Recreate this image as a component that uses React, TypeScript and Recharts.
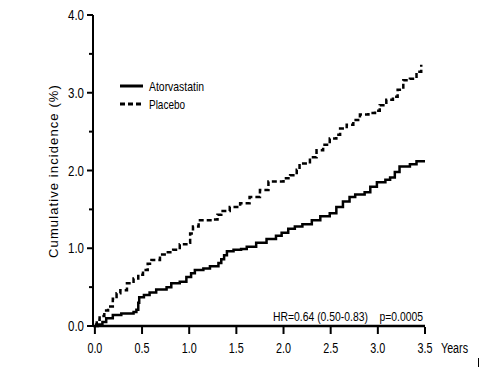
import React from 'react';
import { LineChart, Line, XAxis, YAxis } from 'recharts';

// Atorvastatin cumulative incidence (%) by year
const atorvaYears = [0, 0.03, 0.08, 0.12, 0.19, 0.28, 0.41, 0.44, 0.46, 0.47, 0.52, 0.58, 0.65, 0.76, 0.81, 0.9, 0.97, 1.02, 1.06, 1.15, 1.22, 1.31, 1.34, 1.37, 1.4, 1.47, 1.55, 1.61, 1.71, 1.82, 1.92, 1.98, 2.05, 2.12, 2.2, 2.3, 2.39, 2.49, 2.56, 2.63, 2.7, 2.76, 2.86, 2.92, 2.99, 3.08, 3.13, 3.18, 3.23, 3.34, 3.41, 3.5];
const atorvaValues = [0, 0.02, 0.05, 0.1, 0.14, 0.16, 0.18, 0.21, 0.3, 0.37, 0.4, 0.43, 0.47, 0.5, 0.55, 0.57, 0.63, 0.68, 0.72, 0.74, 0.77, 0.81, 0.86, 0.91, 0.96, 0.98, 0.99, 1.02, 1.07, 1.12, 1.16, 1.2, 1.25, 1.28, 1.31, 1.36, 1.41, 1.45, 1.53, 1.6, 1.66, 1.69, 1.72, 1.79, 1.85, 1.88, 1.91, 1.98, 2.05, 2.08, 2.12, 2.12];

// Placebo cumulative incidence (%) by year
const placeboYears = [0, 0.02, 0.05, 0.1, 0.14, 0.19, 0.23, 0.27, 0.34, 0.41, 0.46, 0.51, 0.56, 0.6, 0.69, 0.76, 0.83, 0.9, 0.97, 1.01, 1.04, 1.1, 1.25, 1.3, 1.34, 1.43, 1.54, 1.64, 1.75, 1.84, 1.93, 2.0, 2.07, 2.14, 2.17, 2.28, 2.35, 2.42, 2.49, 2.56, 2.6, 2.67, 2.74, 2.81, 2.9, 2.97, 3.02, 3.09, 3.16, 3.21, 3.27, 3.34, 3.41, 3.46];
const placeboValues = [0.02, 0.08, 0.13, 0.2, 0.25, 0.35, 0.42, 0.46, 0.55, 0.61, 0.66, 0.72, 0.8, 0.85, 0.92, 0.95, 0.98, 1.05, 1.07, 1.19, 1.28, 1.36, 1.37, 1.43, 1.48, 1.53, 1.58, 1.66, 1.75, 1.86, 1.86, 1.9, 1.94, 2.01, 2.09, 2.17, 2.26, 2.33, 2.41, 2.46, 2.54, 2.59, 2.65, 2.72, 2.74, 2.77, 2.84, 2.91, 2.95, 3.04, 3.16, 3.18, 3.27, 3.36];

const xTicks = [0, 0.5, 1, 1.5, 2, 2.5, 3, 3.5];
const yTicks = [0, 0.5, 1, 1.5, 2, 2.5, 3, 3.5, 4];
const seriesNames = ['Atorvastatin', 'Placebo'];
const statsText = 'HR=0.64 (0.50-0.83)    p=0.0005';

const atorvaData = atorvaYears.map((t, i) => ({ t, v: atorvaValues[i] }));
const placeboData = placeboYears.map((t, i) => ({ t, v: placeboValues[i] }));

const W = 495;
const H = 367;
const PLOT_LEFT = 93;
const PLOT_RIGHT = 425;
const PLOT_TOP = 15;
const PLOT_BOTTOM = 326;
const FONT = "'Liberation Sans', Arial, sans-serif";

const YTick = (props: any) => {
  const { y, payload } = props;
  const major = Number.isInteger(payload.value);
  return (
    <g>
      <line x1={PLOT_LEFT - (major ? 6 : 4)} x2={PLOT_LEFT} y1={y} y2={y} stroke="#000" strokeWidth={2} />
      {major && (
        <text x={84} y={y + 5} textAnchor="end" fontSize={14} fontFamily={FONT} fill="#000" textLength={16} lengthAdjust="spacingAndGlyphs">
          {payload.value.toFixed(1)}
        </text>
      )}
    </g>
  );
};

const XTick = (props: any) => {
  const { x, payload } = props;
  return (
    <g>
      <line x1={x} x2={x} y1={PLOT_BOTTOM + 1} y2={PLOT_BOTTOM + 8} stroke="#000" strokeWidth={2} />
      <text x={x - 7.5} y={353} fontSize={14} fontFamily={FONT} fill="#000" textLength={15} lengthAdjust="spacingAndGlyphs">
        {payload.value.toFixed(1)}
      </text>
    </g>
  );
};

export default function App() {
  return (
    <div style={{ position: 'absolute', left: 0, top: 0, width: W, height: H, background: '#fff' }}>
      <LineChart
        width={W}
        height={H}
        margin={{ top: PLOT_TOP, right: W - PLOT_RIGHT, bottom: 0, left: 0 }}
      >
        <XAxis
          type="number"
          dataKey="t"
          domain={[-0.02, 3.5]}
          ticks={xTicks}
          height={H - PLOT_BOTTOM}
          tick={<XTick />}
          tickLine={false}
          axisLine={{ stroke: '#000', strokeWidth: 2.5 }}
          allowDuplicatedCategory={false}
        />
        <YAxis
          type="number"
          dataKey="v"
          domain={[0, 4]}
          ticks={yTicks}
          width={PLOT_LEFT}
          tick={<YTick />}
          tickLine={false}
          axisLine={{ stroke: '#000', strokeWidth: 2 }}
        />
        <Line
          data={atorvaData}
          dataKey="v"
          name={seriesNames[0]}
          type="stepAfter"
          stroke="#000"
          strokeWidth={2.5}
          dot={false}
          isAnimationActive={false}
        />
        <Line
          data={placeboData}
          dataKey="v"
          name={seriesNames[1]}
          type="stepAfter"
          stroke="#000"
          strokeWidth={2.5}
          strokeDasharray="5 3"
          dot={false}
          isAnimationActive={false}
        />
        <g>
          <line x1={120} x2={143} y1={86} y2={86} stroke="#000" strokeWidth={3} />
          <text x={149} y={90.5} fontSize={13} fontFamily={FONT} fill="#000" textLength={55} lengthAdjust="spacingAndGlyphs">
            {seriesNames[0]}
          </text>
          <line x1={120} x2={143} y1={104} y2={104} stroke="#000" strokeWidth={3} strokeDasharray="5 3" />
          <text x={149} y={108.5} fontSize={13} fontFamily={FONT} fill="#000" textLength={36} lengthAdjust="spacingAndGlyphs">
            {seriesNames[1]}
          </text>
        </g>
        <text
          x={58}
          y={171}
          transform="rotate(-90 58 171)"
          textAnchor="middle"
          fontSize={13}
          fontFamily={FONT}
          letterSpacing={1.1}
          fill="#000"
        >
          Cumulative incidence (%)
        </text>
        <text x={441} y={353} fontSize={14} fontFamily={FONT} fill="#000" textLength={27} lengthAdjust="spacingAndGlyphs">
          Years
        </text>
        <text x={273} y={321} fontSize={13} fontFamily={FONT} fill="#000" textLength={150} lengthAdjust="spacingAndGlyphs" xmlSpace="preserve">
          {statsText}
        </text>
      </LineChart>
      <div style={{ position: 'absolute', left: 478, top: 358, width: 1, height: 9, background: '#000' }} />
    </div>
  );
}
